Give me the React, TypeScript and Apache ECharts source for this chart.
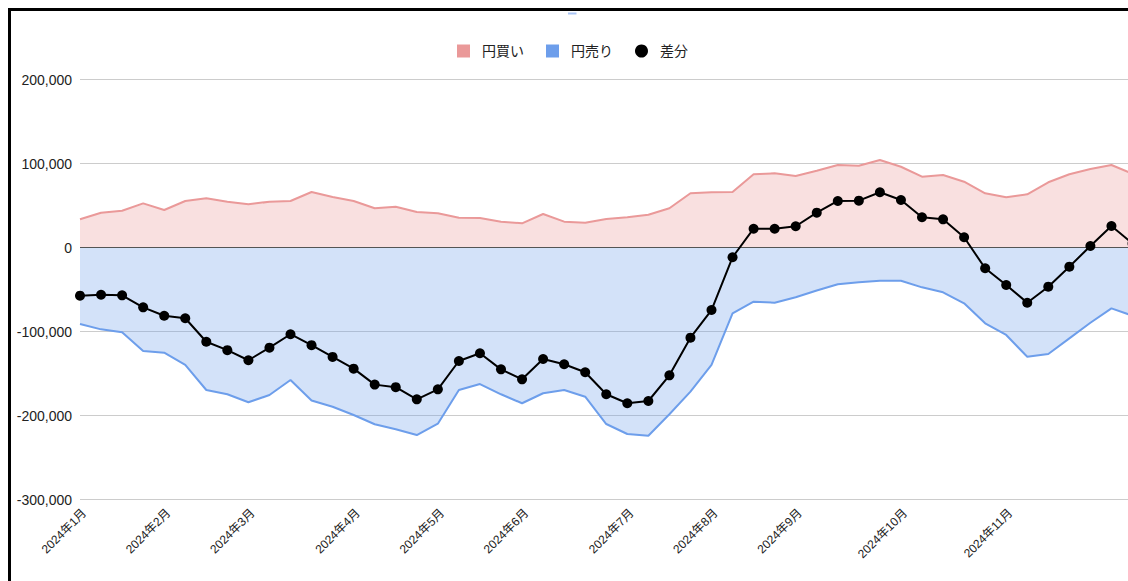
import React, { useEffect, useRef } from "react";
import * as echarts from "echarts";

// Month labels and the week index at which each month starts
const monthLabels = [
  "2024年1月", "2024年2月", "2024年3月", "2024年4月", "2024年5月", "2024年6月",
  "2024年7月", "2024年8月", "2024年9月", "2024年10月", "2024年11月",
];
const monthStartWeek = [0, 4, 8, 13, 17, 21, 26, 30, 34, 39, 44];

// 円買い (yen buying)
const yenBuy = [
  33800, 41700, 44000, 52800, 44900, 55600, 58800, 54800, 51600, 54800,
  55600, 66300, 60400, 55600, 46900, 48800, 42500, 40900, 35700, 35400,
  31000, 29000, 40100, 31000, 29800, 34200, 36200, 39300, 46900, 64800,
  66000, 66300, 87400, 88600, 85400, 91700, 98500, 97600, 104400, 96400,
  84500, 86500, 78600, 64800, 60000, 63600, 77900, 87400, 93700, 98500,
  88000,
];

// 円売り (yen selling)
const yenSell = [
  -90800, -97200, -100700, -123000, -125000, -139600, -169400, -174500, -184000, -175400,
  -157500, -182000, -189300, -199200, -210200, -216200, -223000, -209500, -169400, -162300,
  -174500, -185200, -173300, -169400, -177400, -209900, -221800, -223800, -198300, -171400,
  -139600, -78100, -64300, -65500, -59000, -51000, -43500, -41200, -39300, -39300,
  -47200, -53100, -66200, -90000, -103900, -129800, -126500, -107900, -89300, -72200,
  -81000,
];

// 差分 (net)
const netDiff = [
  -57100, -56000, -56700, -71000, -81000, -84000, -112000, -122000, -134000, -119000,
  -103000, -116000, -130000, -144000, -163000, -166000, -180500, -168600, -134900, -125700,
  -144800, -156700, -132500, -138800, -148300, -174500, -185200, -182500, -151900, -107100,
  -74200, -11400, 22600, 22600, 25500, 41700, 55600, 56000, 66000, 56800,
  36200, 33800, 12400, -24500, -44400, -65500, -46400, -22600, 2000, 25800,
  5000,
];

// y-axis range
const yMin = -300000;
const yMax = 200000;
const yStep = 100000;

const FONT = "'Liberation Sans', Arial, 'Noto Sans CJK JP', sans-serif";

export default function App() {
  const ref = useRef<HTMLDivElement>(null);

  useEffect(() => {
    if (!ref.current) return;
    const chart = echarts.init(ref.current, undefined, { renderer: "svg" });

    // each week gets the label of the month it belongs to
    const weekMonth: string[] = netDiff.map((_, i) => {
      let m = 0;
      for (let k = 0; k < monthStartWeek.length; k++) if (i >= monthStartWeek[k]) m = k;
      return monthLabels[m];
    });
    const categories = netDiff.map((_, i) => String(i));

    chart.setOption({
      animation: false,
      textStyle: { fontFamily: FONT },
      legend: {
        left: 441,
        top: 28,
        itemWidth: 13,
        itemHeight: 13,
        itemGap: 22,
        textStyle: { fontSize: 14, color: "#222", fontFamily: FONT, padding: [0, 0, 0, 7] },
        itemStyle: { borderWidth: 0 },
        data: [
          { name: "円買い", icon: "rect" },
          { name: "円売り", icon: "rect" },
          { name: "差分", icon: "circle" },
        ],
      },
      graphic: [
        {
          type: "rect",
          shape: { x: 557, y: 1.5, width: 8.5, height: 2 },
          style: { fill: "#a9c4f5" },
        },
      ],
      grid: { left: 69, top: 68.7, right: 78.5, bottom: 111.3, containLabel: false },
      xAxis: {
        type: "category",
        boundaryGap: false,
        data: categories,
        axisLine: { show: false, onZero: false },
        axisTick: { show: false },
        splitLine: { show: false },
        axisLabel: {
          interval: 0,
          rotate: 45,
          margin: 7,
          fontSize: 12,
          verticalAlign: "top",
          color: "#222",
          fontFamily: FONT,
          formatter: (_v: string, idx: number) =>
            monthStartWeek.indexOf(idx) >= 0 ? weekMonth[idx] : "",
        },
      },
      yAxis: {
        type: "value",
        min: yMin,
        max: yMax,
        interval: yStep,
        axisLine: { show: false },
        axisTick: { show: false },
        splitLine: { lineStyle: { color: "#cccccc", width: 1 } },
        axisLabel: {
          margin: 8,
          fontSize: 14,
          color: "#222",
          fontFamily: FONT,
          formatter: (v: number) => v.toLocaleString("en-US"),
        },
      },
      series: [
        {
          name: "円買い",
          type: "line",
          data: yenBuy,
          showSymbol: false,
          symbol: "none",
          lineStyle: { color: "#ea9999", width: 2 },
          itemStyle: { color: "#ea9999" },
          areaStyle: { color: "#ea9999", opacity: 0.3 },
          z: 1,
        },
        {
          name: "円売り",
          type: "line",
          data: yenSell,
          showSymbol: false,
          symbol: "none",
          lineStyle: { color: "#6d9eeb", width: 2 },
          itemStyle: { color: "#6d9eeb" },
          areaStyle: { color: "#6d9eeb", opacity: 0.3 },
          z: 1,
        },
        {
          name: "差分",
          type: "line",
          data: netDiff,
          symbol: "circle",
          symbolSize: 10,
          showAllSymbol: true,
          lineStyle: { color: "#000", width: 2 },
          itemStyle: { color: "#000" },
          z: 3,
          markLine: {
            silent: true,
            symbol: "none",
            label: { show: false },
            lineStyle: { color: "#555", width: 1, type: "solid" },
            data: [{ yAxis: 0 }],
            z: 2,
          },
        },
      ],
    });

    return () => chart.dispose();
  }, []);

  return (
    <div
      style={{
        position: "fixed",
        left: 8,
        top: 8,
        width: 1120,
        height: 573,
        overflow: "hidden",
        borderTop: "3px solid #000",
        borderLeft: "3px solid #000",
        boxSizing: "border-box",
        background: "#fff",
      }}
    >
      <div ref={ref} style={{ width: 1200, height: 600 }} />
    </div>
  );
}
